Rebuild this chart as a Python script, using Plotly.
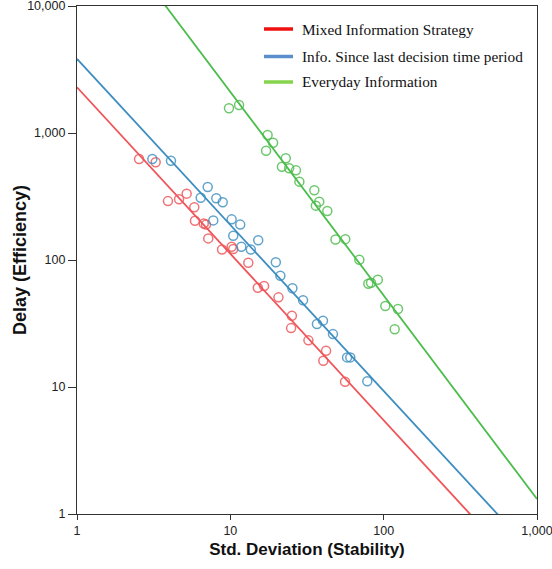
import plotly.graph_objects as go

# ---- data ----
series_names = ["Mixed Information Strategy", "Info. Since last decision time period", "Everyday Information"]

red_x = [2.54, 3.26, 3.92, 4.63, 5.19, 5.82, 5.88, 6.71, 6.94, 7.18, 8.83, 10.2, 10.45, 13.1, 15.1, 16.6, 20.6, 25.2, 24.9, 32.3, 42.1, 40.4, 56.0]
red_y = [624, 588, 291, 301, 333, 260, 204, 194, 190, 148, 121, 127, 122, 95.2, 60.5, 62.4, 50.8, 36.4, 29.1, 23.3, 19.3, 16.1, 11.0]

blue_x = [3.10, 4.10, 7.12, 6.41, 8.10, 8.92, 7.74, 10.2, 11.6, 10.45, 15.2, 11.8, 13.6, 19.8, 21.2, 25.4, 29.8, 36.7, 40.2, 46.7, 57.7, 60.6, 78.2]
blue_y = [624, 605, 376, 309, 306, 285, 205, 209, 190, 155, 143, 127, 121, 95.9, 75.2, 59.9, 48.2, 31.3, 33.3, 26.1, 17.1, 17.1, 11.1]

green_x = [9.80, 11.4, 17.5, 19.0, 17.1, 23.0, 21.7, 24.2, 26.8, 28.2, 35.3, 38.0, 36.1, 42.9, 48.5, 56.2, 69.4, 79.4, 82.7, 91.6, 102.5, 124, 118]
green_y = [1565, 1662, 964, 839, 725, 632, 543, 527, 508, 414, 354, 288, 268, 243, 145, 146, 100.6, 65.1, 66.3, 70.0, 43.4, 41.1, 28.5]

# power-law fit lines: y = a * x^b
fit_a = [2291, 3828, 84500]
fit_b = [-1.311, -1.307, -1.603]
fit_x = [1, 1000]

x_tickvals = [1, 10, 100, 1000]
x_ticktext = ["1", "10", "100", "1,000"]
y_tickvals = [1, 10, 100, 1000, 10000]
y_ticktext = ["1", "10", "100", "1,000", "10,000"]

# ---- styles ----
line_colors = ["#ef5458", "#3d8ec0", "#4cbd4c"]
marker_colors = ["rgba(236,80,84,0.8)", "rgba(58,140,190,0.8)", "rgba(72,186,72,0.8)"]
legend_colors = ["#f01010", "#5a8fcc", "#86d44c"]

W, H = 552, 569
ML, MR, MT, MB = 77, 15, 6, 55
PW, PH = W - ML - MR, H - MT - MB

fig = go.Figure()
pts = [(red_x, red_y), (blue_x, blue_y), (green_x, green_y)]
for i, (xs, ys) in enumerate(pts):
    fig.add_trace(go.Scatter(
        x=xs, y=ys, mode="markers", showlegend=False,
        marker=dict(symbol="circle-open", size=9, color=marker_colors[i], line=dict(width=1.5)),
    ))
for i in range(3):
    fy = [fit_a[i] * x ** fit_b[i] for x in fit_x]
    fig.add_trace(go.Scatter(
        x=fit_x, y=fy, mode="lines", showlegend=False,
        line=dict(color=line_colors[i], width=1.8),
    ))

# manual legend (line swatch + serif label)
leg_y = [29, 56.5, 82]
for i, name in enumerate(series_names):
    yp = (H - MB - leg_y[i]) / PH
    fig.add_shape(type="line", xref="paper", yref="paper",
                  x0=(264 - ML) / PW, x1=(293 - ML) / PW, y0=yp, y1=yp,
                  line=dict(color=legend_colors[i], width=3.5))
    fig.add_annotation(xref="paper", yref="paper",
                       x=(300 - ML) / PW, y=yp,
                       xanchor="left", yanchor="middle", showarrow=False,
                       text=name, font=dict(family="Liberation Serif", size=15.3, color="#111"))

# y-axis title as annotation (placed like the reference)
fig.add_annotation(xref="paper", yref="paper", x=(20 - ML) / PW, y=0.5,
                   xanchor="center", yanchor="middle", textangle=-90, showarrow=False,
                   text="<b>Delay (Efficiency)</b>",
                   font=dict(family="Liberation Sans, Arial", size=18, color="#111"))

axis_common = dict(
    type="log", showgrid=False, zeroline=False, automargin=False,
    showline=True, linecolor="#333", linewidth=1.2, mirror=True,
    ticks="outside", tickcolor="#333", tickwidth=1,
    ticklabeloverflow="allow",
    tickfont=dict(family="Liberation Sans, Arial", size=12.5, color="#222"),
)
fig.update_xaxes(**axis_common, range=[0, 3], ticklen=5, tickvals=x_tickvals, ticktext=x_ticktext,
                 title=dict(text="<b>Std. Deviation (Stability)</b>", standoff=6,
                            font=dict(family="Liberation Sans, Arial", size=17, color="#111")))
fig.update_yaxes(**axis_common, range=[0, 4], ticklen=8, tickvals=y_tickvals, ticktext=y_ticktext)

fig.update_layout(
    width=W, height=H,
    margin=dict(l=ML, r=MR, t=MT, b=MB, autoexpand=False),
    paper_bgcolor="white", plot_bgcolor="white",
    showlegend=False,
)

fig.write_html("out.html")
